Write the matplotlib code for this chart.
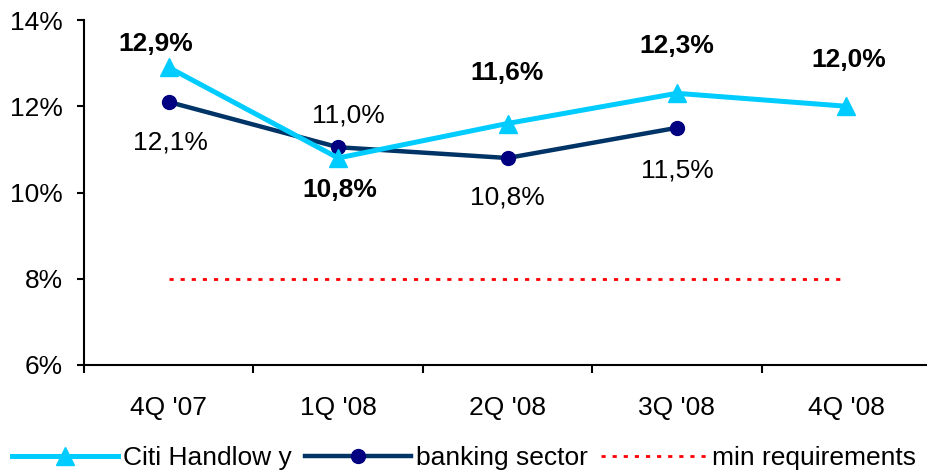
import matplotlib.pyplot as plt
from matplotlib.ticker import FixedLocator, FuncFormatter

plt.rcParams['font.family'] = ['Liberation Sans', 'DejaVu Sans']

quarters = ["4Q '07", "1Q '08", "2Q '08", "3Q '08", "4Q '08"]
citi = [12.9, 10.8, 11.6, 12.3, 12.0]
banking = [12.1, 11.05, 10.8, 11.5]
banking_labels = [12.1, 11.0, 10.8, 11.5]
min_req = [8.0, 8.0, 8.0, 8.0, 8.0]

# label offsets in pixels (dx, dy) for each point
citi_off = [(-13, 23), (2, -32), (0, 51), (0, 47), (2, 46)]
bank_off = [(2, -41), (10, 32), (0, -40), (0, -43)]

fs = 19
fig = plt.figure(figsize=(9.28, 4.75), dpi=100)
ax = fig.add_axes([84 / 928, 1 - 365 / 475, 847 / 928, 345 / 475])

x = list(range(len(quarters)))
ax.plot(x, min_req, color='#FF0000', lw=2, linestyle=(0, (1.5, 2.5)),
        label='min requirements', zorder=1)
ax.plot(x, citi, color='#00CCFF', lw=3.6, marker='^', markersize=13,
        label='Citi Handlow y', zorder=3)
ax.plot(x[:len(banking)], banking, color='#003366', lw=3.2, marker='o',
        markersize=10, markerfacecolor='#000080', markeredgecolor='#000080',
        label='banking sector', zorder=2)

def pct(v):
    return f"{v:.1f}%".replace('.', ',')

px = 72 / 100
for xi, v, (dx, dy) in zip(x, citi, citi_off):
    ax.annotate(pct(v), (xi, v), xytext=(dx * px, dy * px), textcoords='offset points',
                ha='center', va='center', fontsize=fs, fontweight='bold')
for xi, v, lab, (dx, dy) in zip(x, banking, banking_labels, bank_off):
    ax.annotate(pct(lab), (xi, v), xytext=(dx * px, dy * px), textcoords='offset points',
                ha='center', va='center', fontsize=fs)

ax.set_xlim(-0.5, 4.5)
ax.set_ylim(6, 14)
ax.set_yticks([6, 8, 10, 12, 14])
ax.yaxis.set_major_formatter(FuncFormatter(lambda v, p: f"{v:.0f}%"))
ax.tick_params(axis='y', direction='out', length=5, width=1.5, pad=10, labelsize=fs)

ax.xaxis.set_major_locator(FixedLocator([i - 0.5 for i in range(6)]))
ax.xaxis.set_major_formatter(FuncFormatter(lambda v, p: ''))
ax.xaxis.set_minor_locator(FixedLocator(x))
ax.set_xticklabels(quarters, minor=True)
ax.tick_params(axis='x', which='major', direction='out', length=6, width=1.5)
ax.tick_params(axis='x', which='minor', length=0, pad=22, labelsize=fs)

for s in ['top', 'right']:
    ax.spines[s].set_visible(False)
for s in ['left', 'bottom']:
    ax.spines[s].set_linewidth(1.5)

handles, labels = ax.get_legend_handles_labels()
order = [1, 2, 0]
fig.legend([handles[i] for i in order], [labels[i] for i in order],
           loc='center', bbox_to_anchor=(0.5, 1 - 458 / 475), ncol=3, frameon=False,
           fontsize=fs, handlelength=4.0, handletextpad=0.2, columnspacing=0.5,
           borderaxespad=0)

fig.savefig('out.png', dpi=100)
